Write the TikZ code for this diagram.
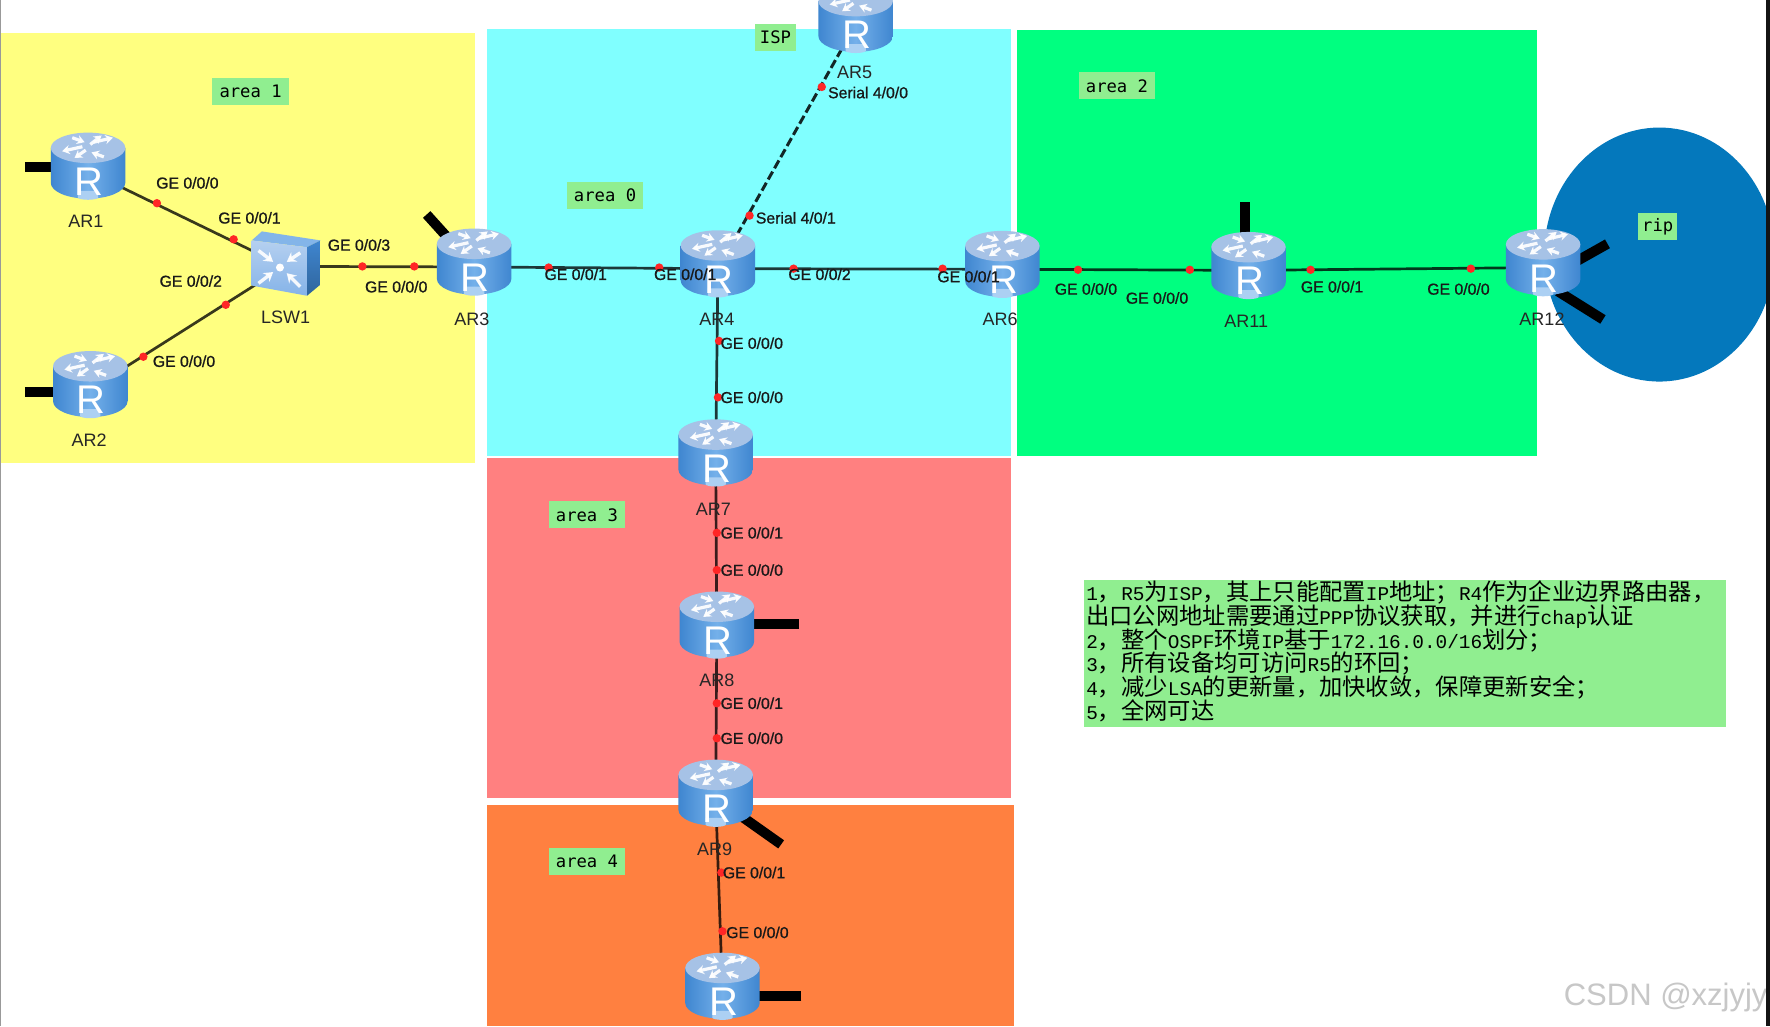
\documentclass[tikz,border=0pt]{standalone}
\usepackage{fontspec}
\usetikzlibrary{arrows.meta,shapes.geometric}
\setmainfont{Liberation Sans}
\newfontfamily\labfont[RawFeature={embolden=1.0}]{Liberation Sans}
\newfontfamily\monofont{DejaVu Sans Mono}
\newfontfamily\notemono{Liberation Mono}
\newfontfamily\cjk{Noto Sans CJK SC}
\newcommand{\lat}[1]{{\fontsize{9.7}{11.9}\notemono #1}}
\def\uu{0.5644pt}
\definecolor{yarea}{HTML}{FFFF80}
\definecolor{carea}{HTML}{80FFFF}
\definecolor{garea}{HTML}{00FF80}
\definecolor{rarea}{HTML}{FF8080}
\definecolor{oarea}{HTML}{FF8040}
\definecolor{riparea}{HTML}{0478BC}
\definecolor{tag}{HTML}{90EE90}
\definecolor{rbodye}{HTML}{3F86D0}
\definecolor{rbodym}{HTML}{74B0EA}
\definecolor{rtop}{HTML}{A6C2E6}
\definecolor{swhi}{HTML}{B5D0F0}
\definecolor{swlo}{HTML}{85B3E8}
\tikzset{
  x=0.5644pt,y=-0.5644pt,
  region/.style={fill=#1,draw=none},
  anchorbox/.style={inner sep=0pt,minimum width=66*0.5644pt,minimum height=60*0.5644pt},
  link/.style={draw=black,opacity=.78,line width=1.35pt},
  seriallink/.style={draw=black,opacity=.85,line width=1.5pt,dash pattern=on 4.5pt off 1.9pt},
  stub/.style={draw=black,line width=5pt},
  reddot/.style={circle,fill=red!85!white,inner sep=0pt,minimum size=4.2pt},
  portlabel/.style={font=\labfont\fontsize{7.9}{9}\selectfont,text=black!90,inner sep=0pt},
  devlabel/.style={font=\fontsize{9}{10}\selectfont,text=black!85,inner sep=0pt},
  areatag/.style={fill=tag,font=\monofont\fontsize{8.6}{10}\selectfont,text=black,inner sep=0pt,minimum height=24*0.5644pt},
  wa/.style={white,line width=1.6pt,-{Stealth[length=3.8pt,width=4.6pt]},opacity=.92},
  wb/.style={white,line width=1.7pt,-{Stealth[length=4.5pt,width=5.5pt]},opacity=.9},
}
\newcommand{\routerglyph}[1]{%
  \begin{scope}[shift={(#1.center)},yshift=2.55pt]
    \shade[left color=rbodye,right color=rbodye,middle color=rbodym]
      (-33,-16) -- (-33,15) arc[start angle=180,end angle=360,x radius=33*\uu,y radius=14*\uu] -- (33,-16) -- cycle;
    \fill[rbodym!60!white] (-9,22) -- (9,22) -- (9,28) arc[start angle=0,end angle=-180,x radius=9*\uu,y radius=2*\uu] -- cycle;
    \fill[rtop] (0,-16) ellipse[x radius=33*\uu,y radius=13.5*\uu];
    \draw[wa] (-5,-17) -- (-23,-13);
    \draw[wa] (-14,-25) -- (-3,-21);
    \draw[wa] (5,-21) -- (22,-25);
    \draw[wa] (14,-8) -- (3,-12);
    \draw[wa] (-2,-14) -- (-12,-7);
    \draw[wa] (2,-19) -- (12,-27);
    \node[font=\fontsize{20}{21}\selectfont,text=white,inner sep=0pt] at (1,14) {R};
  \end{scope}%
}
\begin{document}
\begin{tikzpicture}
\useasboundingbox (0,0) rectangle (1568,909);
\clip (0,0) rectangle (1568,909);
% regions
\fill[white] (0,0) rectangle (1568,909);
\fill[region=yarea] (1,29) rectangle (421,410);
\fill[region=carea] (431,26) rectangle (896,404);
\fill[region=garea] (901,27) rectangle (1362,404);
\fill[region=rarea] (431,406) rectangle (896,707);
\fill[region=oarea] (431,713) rectangle (898,909);
\fill[region=riparea] (1470,225.5) ellipse[x radius=102*\uu,y radius=112.5*\uu];
% device anchors
\node[anchorbox] (ar1) at (78,151.5) {};
\node[anchorbox] (ar2) at (80,345) {};
\node[anchorbox] (ar3) at (420,236.5) {};
\node[anchorbox] (ar4) at (636,238) {};
\node[anchorbox] (ar5) at (758,21.5) {};
\node[anchorbox] (ar6) at (888,238.5) {};
\node[anchorbox] (ar7) at (634,405.5) {};
\node[anchorbox] (ar8) at (635,558) {};
\node[anchorbox] (ar9) at (634,707) {};
\node[anchorbox] (ar10) at (640,878) {};
\node[anchorbox] (ar11) at (1106,239.5) {};
\node[anchorbox] (ar12) at (1367,237) {};
\node[inner sep=0pt,minimum width=60*0.5644pt,minimum height=56*0.5644pt] (lsw1) at (252,236) {};
% stub ends
\coordinate (s1) at (22,148);
\coordinate (s2) at (22,347);
\coordinate (s3) at (378,190);
\coordinate (s8) at (708,553);
\coordinate (s9) at (692,748);
\coordinate (s10) at (710,882);
\coordinate (s11) at (1103,179);
\coordinate (s12a) at (1424,216);
\coordinate (s12ai) at (1392,234);
\coordinate (s12b) at (1420,283);
\coordinate (s12bi) at (1380,258);
\draw[stub] (s1) -- (s1 -| ar1.center);
\draw[stub] (s2) -- (s2 -| ar2.center);
\draw[stub] (s3) -- (ar3.center);
\draw[stub] (s8) -- (s8 -| ar8.center);
\draw[stub] (s9) -- (ar9.center);
\draw[stub] (s10) -- (s10 -| ar10.center);
\draw[stub] (s11) -- (s11 |- ar11.center);
\draw[stub] (s12a) -- (s12ai);
\draw[stub] (s12b) -- (s12bi);
% connectors
\draw[link] (ar1.center) -- (lsw1.center);
\draw[link] (ar2.center) -- (lsw1.center);
\draw[link] (lsw1.center) -- (ar3.center);
\draw[link] (ar3.center) -- (ar4.center);
\draw[link] (ar4.center) -- (ar6.center);
\draw[link] (ar6.center) -- (ar11.center);
\draw[link] (ar11.center) -- (ar12.center);
\draw[link] (ar4.center) -- (ar7.center);
\draw[link] (ar7.center) -- (ar8.center);
\draw[link] (ar8.center) -- (ar9.center);
\draw[link] (ar9.center) -- (ar10.center);
\draw[seriallink] (ar4.center) -- (ar5.center);
% devices
\foreach \r in {ar1,ar2,ar3,ar4,ar5,ar6,ar7,ar8,ar9,ar10,ar11,ar12}{\routerglyph{\r}}
% switch
\begin{scope}[shift={(lsw1.center)},yshift=1.7pt]
  \fill[rbodym!70!rtop] (-29,-20) -- (-20,-28) -- (32,-20) -- (20,-14) -- cycle;
  \shade[top color=swhi,bottom color=swlo] (-29,-20) -- (20,-14) -- (20,29) -- (-29,20) -- cycle;
  \shade[top color=rbodye,bottom color=rbodye!75!black] (20,-14) -- (32,-20) -- (32,19) -- (20,29) -- cycle;
  \draw[wb] (-23,-11) -- (-10,-1);
  \draw[wb] (14,-9) -- (2,-1);
  \draw[wb] (-23,18) -- (-10,8);
  \draw[wb] (14,21) -- (2,9);
  \fill[white] (-4,4) circle[radius=2pt];
\end{scope}
% port markers and labels
\foreach \x/\y [count=\i] in {139/180,207/212,200/270,127/316,321/236,367/236,486/237,584/237,703/238,835/238,955/239,1054/239,1161/239,1303/238,664/191,728/77,637/302,636/352,635/472,635/505,635/623,635/654,639/773,640/825}{
  \node[reddot] (p\i) at (\x,\y) {};
}
\foreach \x/\y/\t [count=\i] in {
  166/162/GE 0\slash 0\slash 0,221/193/GE 0\slash 0\slash 1,169/249/GE 0\slash 0\slash 2,163/320/GE 0\slash 0\slash 0,
  318/217/GE 0\slash 0\slash 3,351/254/GE 0\slash 0\slash 0,510/243/GE 0\slash 0\slash 1,607/243/GE 0\slash 0\slash 1,
  726/243/GE 0\slash 0\slash 2,858/245/GE 0\slash 0\slash 1,962/256/GE 0\slash 0\slash 0,1025/264/GE 0\slash 0\slash 0,
  1180/254/GE 0\slash 0\slash 1,1292/256/GE 0\slash 0\slash 0,769/82/Serial 4\slash 0\slash 0,705/193/Serial 4\slash 0\slash 1,
  666/304/GE 0\slash 0\slash 0,666/352/GE 0\slash 0\slash 0,666/472/GE 0\slash 0\slash 1,666/505/GE 0\slash 0\slash 0,
  666/623/GE 0\slash 0\slash 1,666/654/GE 0\slash 0\slash 0,668/773/GE 0\slash 0\slash 1,671/826/GE 0\slash 0\slash 0}{
  \node[portlabel] (q\i) at (\x,\y) {\t};
}
% device names
\foreach \x/\y/\t in {76/196/AR1,79/390/AR2,418/283/AR3,635/283/AR4,757/64/AR5,886/283/AR6,632/451/AR7,635/603/AR8,633/752/AR9,1104/285/AR11,1366/283/AR12,253/281/LSW1}{
  \node[devlabel] (n\t) at (\x,\y) {\t};
}
% area tags
\node[areatag,minimum width=68*0.5644pt] (t1) at (222,81) {area 1};
\node[areatag,minimum width=68*0.5644pt] (t0) at (536,173) {area 0};
\node[areatag,minimum width=36*0.5644pt] (tisp) at (687,33) {ISP};
\node[areatag,minimum width=67*0.5644pt] (t2) at (989.5,76) {area 2};
\node[areatag,minimum width=68*0.5644pt] (t3) at (520,456) {area 3};
\node[areatag,minimum width=68*0.5644pt] (t4) at (520,763) {area 4};
\node[areatag,minimum width=35*0.5644pt] (trip) at (1468.5,201) {rip};
% note
\fill[tag] (960,514) rectangle (1529,644);
\node[anchor=north west,inner sep=0pt,align=left,font=\cjk\fontsize{11.65}{11.9}\selectfont] (note) at (962,514) {%
\lat{1}，\lat{R5}为\lat{ISP}，其上只能配置\lat{IP}地址；\lat{R4}作为企业边界路由器，\\
出口公网地址需要通过\lat{PPP}协议获取，并进行\lat{chap}认证\\
\lat{2}，整个\lat{OSPF}环境\lat{IP}基于\lat{172.16.0.0/16}划分；\\
\lat{3}，所有设备均可访问\lat{R5}的环回；\\
\lat{4}，减少\lat{LSA}的更新量，加快收敛，保障更新安全；\\
\lat{5}，全网可达};
% watermark
\node[anchor=west,inner sep=0pt,font=\fontsize{15.5}{17}\selectfont,text=black!22] (wm) at (1385,884) {CSDN @xzjyjy};
% screenshot edges
\fill[black!40] (0,0) rectangle (1,909);
\fill[black!92] (1564,0) rectangle (1568,909);
\end{tikzpicture}
\end{document}
